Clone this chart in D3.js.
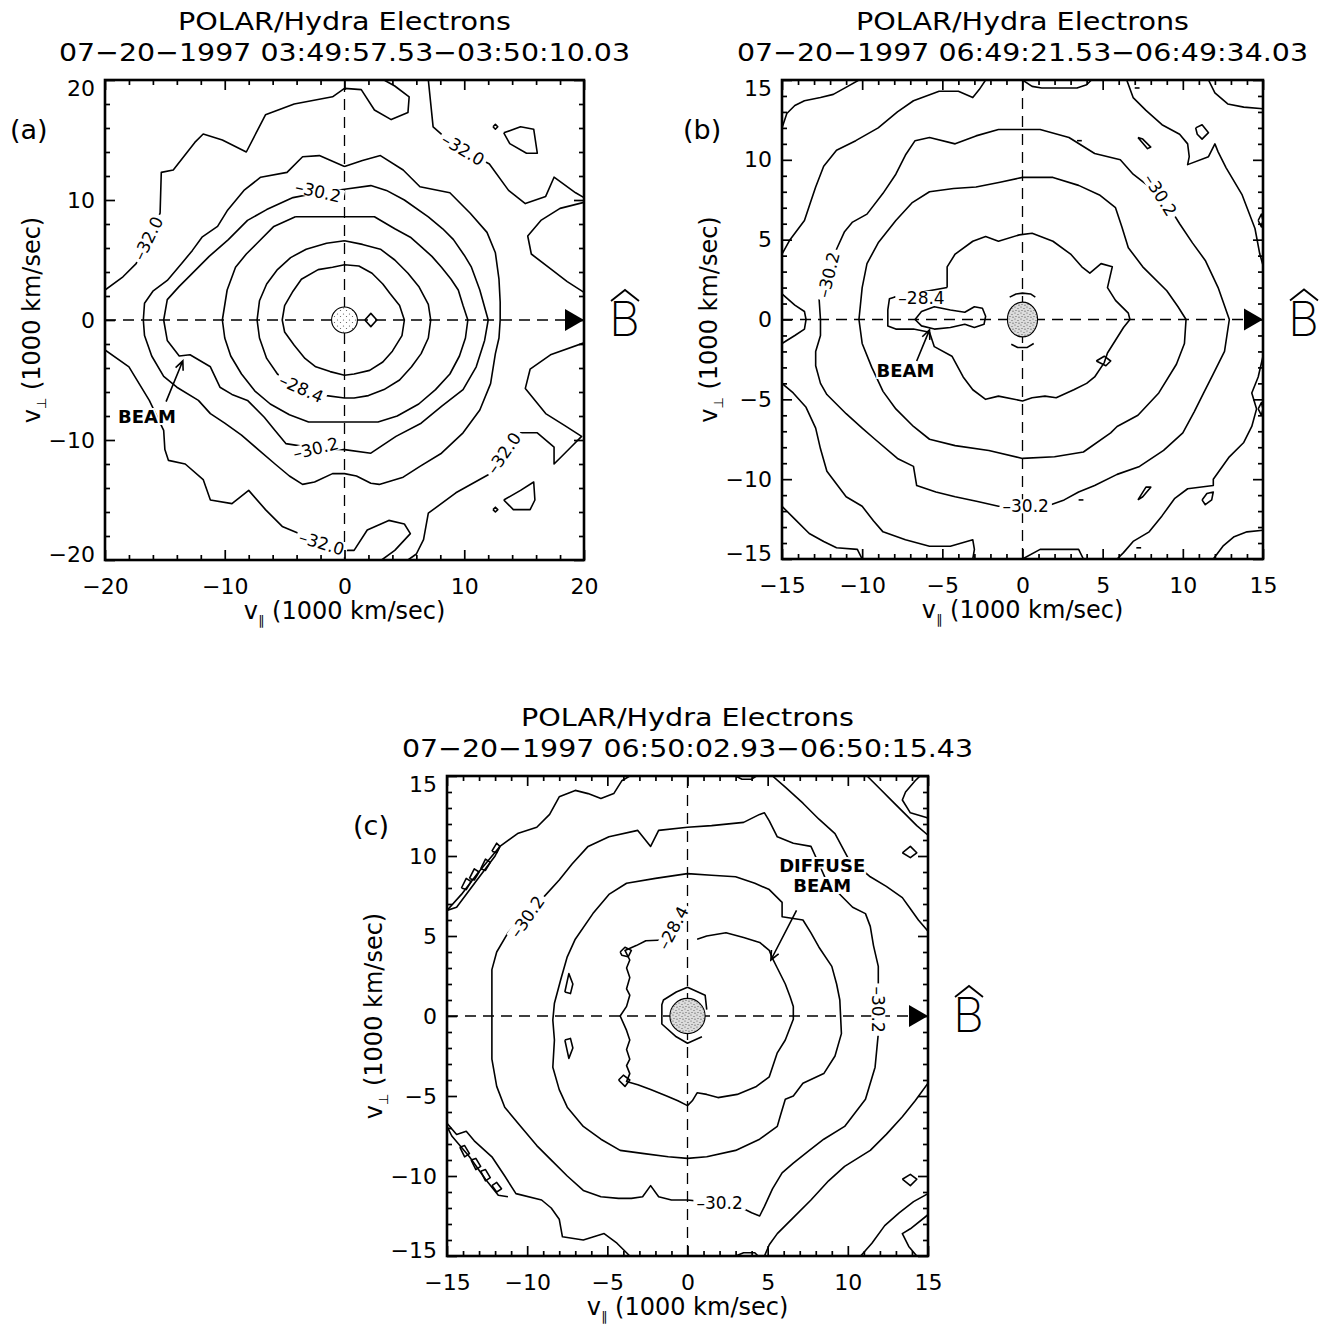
<!DOCTYPE html>
<html>
<head>
<meta charset="utf-8">
<script src="https://cdnjs.cloudflare.com/ajax/libs/d3/7.8.5/d3.min.js"></script>
<style>
  body { margin: 0; background: #fff; }
  svg { display: block; }
</style>
</head>
<body>
<div id="chart"></div>
<script>
const WIDTH = 1320;
const HEIGHT = 1325;
const FONT = '"DejaVu Sans", "Liberation Sans", sans-serif';

// ---------------- panel (a) data, units of 1000 km/sec ----------------
const titleA = ['POLAR/Hydra Electrons', '07\u221220\u22121997 03:49:57.53\u221203:50:10.03'];

const a_ring1 = [[0,4.6],[1.2,4.5],[2.3,3.9],[3.2,3.0],[3.8,2.2],[4.6,1.2],[5.0,0],[4.8,-1.3],[4.0,-2.6],[3.2,-3.5],[2.1,-4.2],[0.8,-4.5],[0,-4.6],[-1.2,-4.3],[-2.4,-3.9],[-3.3,-3.2],[-4.2,-2.1],[-5.0,-1.0],[-5.2,0],[-5.0,1.2],[-4.3,2.4],[-3.6,3.4],[-2.2,4.2],[-1.0,4.4],[0,4.6]];
const a_ring2 = [[0,6.6],[1.5,6.3],[3,5.9],[4.2,5.0],[5.3,3.9],[6.2,2.8],[7.0,1.3],[7.2,0],[7.0,-1.5],[6.4,-2.8],[5.6,-3.9],[4.6,-5.0],[3.3,-5.8],[2,-6.3],[0.8,-6.5],[0,-6.5],[-1.5,-6.3],[-3,-5.9],[-4.5,-5.3],[-5.6,-4.5],[-6.5,-3.2],[-7.1,-1.5],[-7.3,0],[-7.1,1.6],[-6.5,3.0],[-5.6,4.2],[-4.5,5.2],[-3.2,5.9],[-1.5,6.4],[0,6.6]];
const a_ring3 = [[-4.1,8.6],[2.5,8.6],[4.2,7.6],[5.5,6.9],[6.3,6.2],[7.3,5.3],[8.1,4.4],[8.9,3.4],[9.5,2.5],[9.9,1.2],[10.3,0],[10.1,-1.5],[9.6,-3.0],[8.8,-4.5],[7.6,-5.8],[6.2,-7.0],[4.4,-8.0],[2.8,-8.5],[0,-8.5],[-3.0,-8.5],[-4.6,-7.9],[-6.2,-7.0],[-7.5,-5.9],[-8.6,-4.5],[-9.5,-3.0],[-10.0,-1.5],[-10.2,0],[-9.8,2.5],[-9.1,4.4],[-8.2,5.5],[-7.3,6.4],[-5.9,7.8],[-4.1,8.6]];
const a_ring4 = [[0,10.9],[2.2,11.2],[3.5,10.8],[5,10],[7,8.6],[8.2,7.6],[9.1,6.7],[10.0,5.4],[10.6,4.4],[11.3,2.5],[12,0],[11.7,-1.7],[11,-3.9],[9.9,-5.8],[8.1,-7.2],[6.4,-8.6],[4.3,-9.7],[2.2,-11.1],[0,-10.8],[-2.4,-10.7],[-4.9,-10.3],[-5.8,-9.2],[-6.7,-8.1],[-8.1,-6.7],[-9.4,-6.2],[-10.4,-5.6],[-11.2,-3.9],[-12.9,-2.9],[-13.8,-3.0],[-14.8,-1.7],[-15.1,0],[-14.8,1.7],[-13.8,2.8],[-12.9,3.7],[-11.3,5.3],[-9.7,6.7],[-8.1,8.3],[-6.5,9.2],[-4.3,10.2],[-2.2,10.6],[0,10.9]];
const a_ring5 = [[0,12.8],[1.5,13.3],[3,13.7],[4.9,12.5],[6.3,11.1],[8.8,10.6],[10.5,8.9],[11.9,7.3],[12.6,5.6],[12.9,3.4],[13.0,1.5],[13.0,0],[12.9,-1.5],[12.6,-2.8],[12.2,-5.3],[11.3,-7.5],[9.9,-9.4],[8.1,-11.1],[6.3,-12.2],[4.9,-13.1],[2.9,-13.7],[2.2,-13.6],[1.0,-13.0],[0,-12.8],[-1,-12.8],[-2.5,-13.5],[-3.5,-13.7],[-4.6,-13.0],[-5.8,-12.0],[-7.2,-10.8],[-8.6,-9.6],[-10.0,-8.6],[-11.2,-7.8],[-12.2,-6.7],[-14.0,-5.6],[-15.1,-4.7],[-16.1,-3.0],[-16.7,-1.3],[-16.8,0],[-16.7,1.4],[-16.0,2.4],[-14.8,3.3],[-13.6,4.7],[-12.7,5.8],[-11.9,6.9],[-10.6,7.8],[-9.8,9.1],[-8.4,10.8],[-7.0,11.9],[-4.8,12.3],[-3.5,13.6],[-2.1,13.7],[0,12.8]];
const a_outer1 = [[-20,2.5],[-18.5,3.6],[-17.4,4.7],[-16.4,6.8],[-15.4,8.9],[-15.3,12.3],[-14.3,12.5],[-12.5,14.8],[-11.8,15.5],[-10.2,15.0],[-8.2,14.0],[-6.6,17.1],[-4.2,18.0],[-1.0,18.6],[0,19.3],[1.4,19.2],[2.5,17.5],[3.9,16.7],[5.3,17.3],[5.4,18.6],[4.2,19.5],[3.3,20]];
const a_outer2 = [[7.0,20],[7.4,16.1],[8.3,15.3],[9.5,14.5],[11,13.6],[12.1,13.0],[13.7,10.8],[15.1,9.7],[16.8,10.3],[17.5,11.9],[19.3,10.6],[20,10.2]];
const a_outer3 = [[20,9.8],[18.0,9.3],[16.4,8.3],[15.3,7.0],[15.6,5.5],[17.3,4.2],[18.6,3.2],[20,2.3]];
const a_outer4 = [[20,-1.9],[17.2,-2.9],[15.5,-4.1],[15.1,-5.7],[16.8,-7.8],[18.4,-8.8],[19.8,-9.7],[18.9,-10.6],[17.5,-12.0],[17.5,-10.6],[16.1,-9.4],[14.7,-9.4],[13.4,-11.2],[12.0,-12.9],[9.3,-14.4],[7.0,-16.1],[6.6,-18.3],[6.0,-19.5],[5.3,-20]];
const a_outer5 = [[-20,-2.5],[-18,-3.9],[-16.3,-6.7],[-15.1,-9.2],[-15,-10.8],[-14.7,-11.7],[-13.3,-12],[-11.8,-13.3],[-11.2,-15],[-9.4,-15.3],[-8.0,-14.2],[-6.6,-15.8],[-5.2,-17.2],[-3.8,-17.8],[-1.8,-18.5],[0,-19.2],[0.8,-19.2],[1.9,-17.5],[3.7,-16.7],[5.0,-17.0],[5.5,-17.8],[4.2,-19.2],[3.1,-20]];
const a_loop1 = [[13.3,15.6],[14.7,16.1],[15.8,15.9],[16.1,13.9],[15.2,13.9],[13.8,14.7],[13.3,15.6]];
const a_loop2 = [[13.3,-15],[14.7,-14.2],[15.8,-13.5],[15.9,-15],[15.5,-15.8],[14.1,-15.8],[13.3,-15]];
const a_dia1 = [[1.7,0],[2.2,0.55],[2.7,0],[2.2,-0.55],[1.7,0]];
const a_dia2 = [[12.4,16.1],[12.6,16.3],[12.8,16.1],[12.6,15.9],[12.4,16.1]];
const a_dia3 = [[12.4,-15.8],[12.6,-15.6],[12.8,-15.8],[12.6,-16.0],[12.4,-15.8]];
const contoursA = [a_ring1, a_ring2, a_ring3, a_ring4, a_ring5, a_outer1, a_outer2, a_outer3, a_outer4, a_outer5, a_loop1, a_loop2, a_dia1, a_dia2, a_dia3];
// [text, v_par, v_perp, angle]
const labelsA = [['\u201332.0', -16.4, 6.8, -64], ['\u201332.0', 9.9, 14.2, 31], ['\u201330.2', -2.2, 10.7, 13],
                 ['\u201328.4', -3.6, -5.7, 24], ['\u201330.2', -2.4, -10.7, -14], ['\u201332.0', 13.3, -11.1, -55],
                 ['\u201332.0', -1.9, -18.6, 17]];
const coreA = [1.08, 1.08];
const notesA = [{ text: ['BEAM'], at: [-16.5, -8.0], from: [-14.9, -6.8], to: [-13.5, -3.4] }];

// ---------------- panel (b) data ----------------
const titleB = ['POLAR/Hydra Electrons', '07\u221220\u22121997 06:49:21.53\u221206:49:34.03'];

const b_beam = [[-6.7,0],[-6.3,0.5],[-5.5,0.8],[-4.5,0.6],[-3.6,0.45],[-3.0,0.8],[-2.5,0.7],[-2.3,0.2],[-2.4,-0.3],[-3.0,-0.5],[-3.6,-0.3],[-4.5,-0.5],[-5.5,-0.6],[-6.3,-0.4],[-6.7,0]];
const b_ring1 = [[-4.7,2.0],[-4.7,3.3],[-4.2,4.1],[-3.1,4.9],[-2.3,5.2],[-1.5,4.9],[-0.2,5.3],[0.6,5.4],[1.9,4.9],[3.0,4.1],[3.7,3.3],[4.2,2.9],[4.9,3.5],[5.6,3.3],[5.3,2.0],[5.8,1.2],[6.6,0.4],[6.7,0],[6.3,-0.5],[5.8,-1.3],[5.3,-2.1],[5.1,-2.7],[4.5,-3.6],[4.0,-4.0],[3.2,-4.4],[2.1,-4.9],[1.4,-4.8],[0.6,-4.9],[0,-5.1],[-1.5,-4.8],[-2.3,-5.0],[-3.1,-4.4],[-3.7,-3.6],[-4.4,-2.3],[-5.5,-1.7],[-5.8,-0.8],[-6.8,-0.6],[-7.9,-0.6],[-8.4,-0.4],[-8.4,0.6],[-8.3,1.3],[-8.0,1.4],[-4.7,2.0]];
const b_ring2 = [[0,8.9],[1.9,8.9],[3.5,8.4],[4.8,7.8],[5.8,7.0],[6.2,5.8],[6.6,4.5],[7.5,3.3],[9.0,1.8],[9.7,0.8],[10.2,0],[10.1,-1.5],[9.6,-2.8],[8.5,-4.6],[7.2,-6.0],[5.9,-6.7],[5.5,-7.1],[3.8,-8.3],[2.0,-8.6],[0,-8.7],[-2.1,-8.2],[-4.2,-7.9],[-5.8,-7.5],[-6.8,-6.7],[-7.9,-5.6],[-8.7,-4.5],[-9.4,-3.0],[-10.0,-1.5],[-10.2,0],[-10.0,2.0],[-9.7,3.5],[-9.0,4.8],[-7.9,6.2],[-6.9,7.3],[-5.8,8.0],[-4.3,8.2],[-2.9,8.3],[-1.4,8.6],[0,8.9]];
const b_ring3 = [[0,11.9],[1.1,11.9],[2.9,11.4],[4.5,10.4],[6.1,10.0],[6.9,9.1],[7.8,8.4],[8.6,7.6],[9.3,6.8],[9.8,6.0],[10.6,4.8],[11.4,3.7],[12.2,2.0],[12.9,0],[12.6,-2.0],[11.9,-3.4],[11.3,-4.6],[10.7,-5.8],[10.0,-7.1],[8.8,-8.2],[7.3,-9.2],[5.9,-9.7],[4.5,-10.4],[3.5,-10.8],[2.6,-11.3],[1.5,-11.7],[-1.5,-11.7],[-2.8,-11.4],[-4.2,-11.1],[-5.4,-10.8],[-6.6,-10.4],[-6.8,-9.2],[-7.8,-8.7],[-9.2,-7.5],[-10.0,-6.8],[-11.0,-5.9],[-12.2,-4.7],[-12.6,-4.0],[-12.9,-2.9],[-12.9,-2.0],[-12.6,-1.0],[-12.6,0],[-12.7,1.5],[-12.4,2.4],[-11.9,3.5],[-11.6,4.4],[-11.1,5.5],[-10.6,6.1],[-9.7,6.6],[-8.7,7.9],[-7.9,9.1],[-7.3,10.3],[-6.7,11.2],[-5.8,11.4],[-4.2,11.0],[-2.9,11.5],[-1.5,11.9],[0,11.9]];
const b_outer1 = [[-15,4.1],[-14.5,5.0],[-13.6,6.2],[-13.2,7.4],[-12.9,8.3],[-12.4,9.6],[-11.6,10.6],[-10.4,11.2],[-9.0,12.0],[-7.8,13.0],[-6.8,13.7],[-5.2,14.3],[-4.0,14.3],[-3.1,13.9],[-2.7,14.4],[-2.3,15]];
const b_outer2 = [[0,15],[0.6,14.6],[1.2,14.5],[3.4,14.5],[4.0,14.7],[4.3,15]];
const b_outer3 = [[6.5,15],[6.9,13.9],[7.7,13.1],[8.7,12.2],[9.8,11.6],[10.3,11.0],[10.4,10.2],[10.3,9.7],[11.6,10.2],[12.0,11.0],[12.2,10.5],[12.7,9.5],[13.7,7.8],[14.5,5.7],[14.8,4.1],[15,3.4]];
const b_outer4 = [[15,-2.3],[14.7,-3.6],[14.3,-4.6],[14.6,-5.6],[14.3,-6.7],[13.8,-7.7],[12.9,-8.6],[11.9,-10.0],[11.9,-10.4],[10.3,-10.6],[9.5,-11.2],[8.7,-12.3],[7.9,-13.3],[6.9,-13.9],[6.3,-14.6],[5.9,-15]];
const b_outer5 = [[0,-15],[1.1,-14.4],[3.5,-14.4],[3.8,-15]];
const b_outer6 = [[-15,-4.0],[-14.3,-4.6],[-13.5,-5.5],[-12.9,-6.8],[-12.6,-8.1],[-12.2,-9.5],[-11.0,-11.1],[-10.0,-11.7],[-9.3,-12.6],[-8.7,-13.3],[-7.3,-13.8],[-5.8,-14.2],[-4.5,-14.2],[-3.1,-13.8],[-3.0,-14.4],[-3.1,-15]];
const b_outer7 = [[-15,1.6],[-14.2,0.9],[-13.6,0.5],[-13.5,0],[-13.6,-0.6],[-14.2,-1.0],[-15,-1.5]];
const b_corner1 = [[-15,12.0],[-14.7,12.9],[-14.2,13.4],[-13.6,13.7],[-12.6,13.9],[-11.8,14.1],[-10.9,14.6],[-10.2,15]];
const b_corner2 = [[-15,-11.7],[-14.2,-12.5],[-13.3,-13.4],[-12.4,-13.9],[-11.6,-14.3],[-10.3,-14.4],[-10.0,-15]];
const b_corner3 = [[11.6,15],[12.0,14.2],[12.8,13.5],[13.8,13.3],[15,13.2]];
const b_corner4 = [[11.9,-15],[12.5,-14.2],[13.2,-13.6],[14.0,-13.3],[15,-13.2]];
const b_arcTop = [[-0.8,1.4],[-0.4,1.6],[0,1.65],[0.5,1.6],[0.8,1.4]];
const b_arcBot = [[-0.7,-1.55],[-0.3,-1.75],[0.3,-1.75],[0.7,-1.5]];
const b_loop1 = [[4.6,-2.6],[5.1,-2.3],[5.5,-2.6],[5.2,-2.9],[4.6,-2.6]];
const b_sliver1 = [[7.2,11.4],[7.5,11.3],[8.0,10.8],[7.8,10.7],[7.2,11.4]];
const b_loop2 = [[10.8,12.0],[11.2,12.2],[11.6,11.7],[11.2,11.3],[10.9,11.6],[10.8,12.0]];
const b_dia1 = [[14.7,6.2],[14.9,6.6],[15,6.2],[14.9,5.8],[14.7,6.2]];
const b_dia2 = [[14.7,-5.6],[14.9,-5.2],[15,-5.6],[14.9,-6.0],[14.7,-5.6]];
const b_sliver2 = [[7.2,-11.3],[7.5,-11.1],[8.0,-10.5],[7.7,-10.5],[7.2,-11.3]];
const b_dia3 = [[11.2,-11.3],[11.5,-10.9],[11.9,-10.8],[11.8,-11.3],[11.4,-11.6],[11.2,-11.3]];
const b_dash1 = [[7.0,14.5],[7.3,14.5]];
const b_dash2 = [[3.4,11.2],[3.7,11.2]];
const b_dash3 = [[3.5,-11.3],[3.8,-11.3]];
const b_dash4 = [[7.1,-14.3],[7.4,-14.3]];
const contoursB = [b_beam, b_ring1, b_ring2, b_ring3, b_outer1, b_outer2, b_outer3, b_outer4, b_outer5, b_outer6, b_outer7,
                   b_corner1, b_corner2, b_corner3, b_corner4, b_arcTop, b_arcBot, b_loop1, b_sliver1, b_loop2,
                   b_dia1, b_dia2, b_sliver2, b_dia3, b_dash1, b_dash2, b_dash3, b_dash4];
const labelsB = [['\u201330.2', -12.1, 2.8, -76], ['\u201330.2', 8.6, 7.8, 58], ['\u201330.2', 0.2, -11.7, 0],
                 ['\u201328.4', -6.3, 1.35, 0]];
const coreB = [0.94, 1.09];
const notesB = [{ text: ['BEAM'], at: [-7.3, -3.2], from: [-6.6, -2.6], to: [-5.8, -0.65] }];

// ---------------- panel (c) data ----------------
const titleC = ['POLAR/Hydra Electrons', '07\u221220\u22121997 06:50:02.93\u221206:50:15.43'];

const c_hex = [[0.9,-1.3],[0,-1.7],[-0.7,-1.3],[-1.6,-0.5],[-1.6,0.7],[-1.5,1.0],[-0.7,1.5],[0,1.8],[1.1,1.3],[1.2,0.4]];
const c_ring1 = [[0.6,4.8],[1.2,5.0],[2.4,5.2],[3.5,4.9],[4.5,4.6],[5.1,4.1],[5.3,3.6],[5.6,3.0],[6.1,2.0],[6.4,1.2],[6.6,0.6],[6.6,-0.2],[6.1,-1.5],[5.6,-2.3],[5.1,-3.8],[4.3,-4.4],[3.1,-4.9],[1.9,-5.1],[1.2,-4.9],[0.6,-4.8],[0.3,-5.3],[0,-5.6],[-0.6,-5.3],[-1.3,-5.0],[-2.3,-4.6],[-3.1,-4.3],[-3.8,-4.1],[-3.6,-3.6],[-3.8,-3.1],[-3.6,-2.7],[-3.8,-2.1],[-3.6,-1.5],[-3.8,-0.9],[-4.2,0],[-3.8,0.6],[-3.6,1.3],[-3.8,1.7],[-3.6,2.4],[-3.8,3.0],[-3.6,3.5],[-3.9,4.1],[-3.2,4.4],[-2.6,4.7],[-1.5,4.75]];
const c_loop1 = [[-4.2,4.0],[-3.9,4.3],[-3.5,4.1],[-3.7,3.7],[-4.1,3.8],[-4.2,4.0]];
const c_loop2 = [[-4.3,-4.0],[-4.0,-3.7],[-3.6,-4.0],[-3.9,-4.4],[-4.3,-4.0]];
const c_ring2 = [[0,8.9],[1.5,8.8],[3.0,8.7],[4.2,8.3],[5.1,7.9],[5.9,7.1],[5.9,6.2],[7.2,6.0],[7.7,5.2],[8.2,4.3],[9.0,3.1],[9.3,2.0],[9.5,1.0],[9.6,-1.1],[9.2,-2.5],[8.5,-3.6],[7.2,-4.2],[6.6,-5.0],[6.1,-5.2],[5.8,-6.2],[5.6,-6.9],[4.5,-7.7],[3.0,-8.4],[1.2,-8.8],[0,-8.9],[-1.2,-8.8],[-2.7,-8.6],[-4.2,-8.4],[-5.4,-7.7],[-6.5,-6.9],[-7.5,-5.7],[-8.0,-4.6],[-8.4,-3.2],[-8.3,-1.5],[-8.4,-0.25],[-8.3,0.8],[-7.9,2.3],[-7.5,3.7],[-7.0,4.8],[-5.9,6.4],[-4.9,7.6],[-3.8,8.3],[-2.0,8.6],[0,8.9]];
const c_tri1 = [[-7.65,1.5],[-7.4,2.65],[-7.15,2.0],[-7.3,1.4],[-7.65,1.5]];
const c_tri2 = [[-7.65,-1.5],[-7.4,-2.65],[-7.15,-2.0],[-7.3,-1.4],[-7.65,-1.5]];
const c_ring3 = [[0,11.8],[1.5,11.9],[3.5,12.1],[4.5,12.6],[4.8,12.7],[5.1,12.2],[5.6,11.2],[6.6,10.8],[7.7,10.6],[8.2,9.5],[8.6,8.6],[9.4,7.7],[10.3,6.8],[11.1,6.4],[11.4,5.6],[11.6,4.4],[11.9,3.1],[11.9,2.0],[11.9,-1.1],[11.7,-3.2],[11.1,-5.2],[9.8,-6.9],[8.5,-7.7],[7.6,-8.4],[6.6,-9.2],[5.9,-9.8],[5.3,-10.8],[4.8,-11.9],[4.5,-12.5],[4.0,-12.3],[3.0,-11.8],[1.0,-11.6],[0,-11.5],[-1.0,-11.5],[-1.8,-11.3],[-2.3,-10.6],[-2.8,-11.3],[-3.5,-11.4],[-4.3,-11.4],[-5.4,-11.3],[-6.5,-10.9],[-7.5,-10.0],[-8.4,-9.1],[-9.4,-8.1],[-10.4,-6.9],[-11.4,-5.7],[-11.9,-4.4],[-12.2,-2.7],[-12.2,-1.0],[-12.2,1.0],[-12.2,2.9],[-11.9,4.0],[-11.2,5.2],[-10.0,6.5],[-9.0,7.4],[-8.0,8.5],[-7.2,9.5],[-6.2,10.6],[-4.9,11.2],[-3.1,11.6],[-2.3,10.6],[-1.8,11.6],[0,11.8]];
const c_outer1 = [[-15,6.6],[-14.1,7.6],[-13.1,8.9],[-11.7,10.6],[-10.6,11.4],[-9.4,11.8],[-8.6,12.6],[-8.0,13.7],[-7.0,14.1],[-6.2,13.9],[-5.4,13.6],[-4.6,13.9],[-4.1,14.7],[-3.6,15]];
const c_strip1 = [[-15,6.6],[-14.4,6.8],[-13.2,8.4],[-12.0,10.0],[-11.7,10.6]];
const c_outer2 = [[5.3,15],[6.1,14.3],[7.2,13.3],[8.2,12.3],[9.2,11.4],[10.0,9.9],[11.4,8.7],[12.4,8.1],[13.4,7.4],[13.9,6.7],[14.4,6.0],[15,5.3]];
const c_outer3 = [[15,-4.2],[14.2,-5.3],[13.4,-6.3],[12.4,-7.4],[11.4,-8.4],[9.8,-9.4],[8.8,-10.3],[7.7,-11.5],[6.6,-12.6],[5.6,-13.6],[5.1,-14.3],[4.8,-15]];
const c_outer4 = [[-15,-6.7],[-14.4,-7.4],[-13.8,-7.2],[-13.3,-7.8],[-12.2,-8.8],[-11.4,-10.0],[-10.7,-11.1],[-9.1,-11.5],[-8.5,-12.0],[-8.0,-12.7],[-7.8,-13.8],[-6.5,-14.0],[-5.2,-13.6],[-4.4,-14.2],[-3.8,-14.8],[-3.6,-15]];
const c_strip2 = [[-15,-6.9],[-14.7,-7.5],[-13.6,-8.8],[-12.6,-10.2],[-11.8,-11.2],[-11.2,-11.3]];
const c_outer5 = [[3.0,15],[3.4,14.8],[4.0,14.8],[4.3,15]];
const c_outer6 = [[3.0,-15],[3.5,-14.8],[4.2,-14.8],[4.4,-15]];
const c_corner1 = [[11.2,15],[12.0,14.2],[12.8,13.4],[13.6,12.6],[14.3,11.9],[15,11.3]];
const c_corner2 = [[14.5,15],[14.2,14.7],[13.6,14.0],[13.4,13.5],[13.9,12.7],[14.9,12.4],[15,12.4]];
const c_corner3 = [[10.8,-15],[11.5,-14.2],[12.3,-13.1],[13.2,-12.3],[14.1,-11.6],[15,-11.1]];
const c_corner4 = [[15,-12.4],[14.9,-12.5],[13.9,-13.3],[13.4,-13.6],[13.8,-14.4],[14.3,-15]];
const c_dia1 = [[13.4,10.2],[13.9,10.6],[14.3,10.2],[13.9,9.9],[13.4,10.2]];
const c_dia2 = [[13.4,-10.2],[13.9,-9.9],[14.3,-10.2],[13.9,-10.6],[13.4,-10.2]];
const c_dia3 = [[-14.1,8.0],[-13.8,8.6],[-13.5,8.4],[-13.8,7.9],[-14.1,8.0]];
const c_dia4 = [[-13.6,8.6],[-13.3,9.2],[-13.0,9.0],[-13.3,8.5],[-13.6,8.6]];
const c_dia5 = [[-12.9,9.2],[-12.6,9.8],[-12.3,9.6],[-12.6,9.1],[-12.9,9.2]];
const c_dia6 = [[-12.2,10.3],[-11.9,10.8],[-11.7,10.6],[-11.9,10.2],[-12.2,10.3]];
const c_dia7 = [[-14.2,-8.2],[-13.9,-8.8],[-13.6,-8.6],[-13.9,-8.1],[-14.2,-8.2]];
const c_dia8 = [[-13.5,-9.0],[-13.2,-9.6],[-12.9,-9.4],[-13.2,-8.9],[-13.5,-9.0]];
const c_dia9 = [[-12.9,-9.7],[-12.6,-10.3],[-12.3,-10.1],[-12.6,-9.6],[-12.9,-9.7]];
const c_dia10 = [[-12.2,-10.6],[-11.9,-11.0],[-11.6,-10.8],[-11.9,-10.4],[-12.2,-10.6]];
const contoursC = [c_hex, c_ring1, c_loop1, c_loop2, c_ring2, c_tri1, c_tri2, c_ring3, c_outer1, c_strip1, c_outer2,
                   c_outer3, c_outer4, c_strip2, c_outer5, c_outer6, c_corner1, c_corner2, c_corner3, c_corner4,
                   c_dia1, c_dia2, c_dia3, c_dia4, c_dia5, c_dia6, c_dia7, c_dia8, c_dia9, c_dia10];
const labelsC = [['\u201330.2', -10.0, 6.2, -55], ['\u201328.4', -0.9, 5.5, -62], ['\u201330.2', 11.9, 0.4, 90],
                 ['\u201330.2', 2.0, -11.7, 0]];
const coreC = [1.1, 1.1];
const notesC = [{ text: ['DIFFUSE', 'BEAM'], at: [8.4, 8.8], from: [6.8, 6.6], to: [5.2, 3.5] }];

// ---------------- layout ----------------
const panels = [
  { left: 105, top: 80, right: 584, bottom: 560, range: 20, major: 10, minor: 2, letter: '(a)', letterX: 10,
    title: titleA, contours: contoursA, labels: labelsA, core: coreA, notes: notesA, stipple: 'stipLight' },
  { left: 782, top: 80, right: 1263, bottom: 559, range: 15, major: 5, minor: 1, letter: '(b)', letterX: 683,
    title: titleB, contours: contoursB, labels: labelsB, core: coreB, notes: notesB, stipple: 'stip' },
  { left: 447, top: 776, right: 928, bottom: 1256, range: 15, major: 5, minor: 1, letter: '(c)', letterX: 353,
    title: titleC, contours: contoursC, labels: labelsC, core: coreC, notes: notesC, stipple: 'stip' }
];

const svg = d3.select('#chart').append('svg')
  .attr('width', WIDTH).attr('height', HEIGHT)
  .style('font-family', FONT);

const defs = svg.append('defs');
const makeStipple = (id, fill, dots) => {
  const pat = defs.append('pattern').attr('id', id)
    .attr('width', 6).attr('height', 6).attr('patternUnits', 'userSpaceOnUse');
  pat.append('rect').attr('width', 6).attr('height', 6).attr('fill', fill);
  dots.forEach(d => pat.append('circle').attr('cx', d[0]).attr('cy', d[1]).attr('r', 0.6).attr('fill', '#555'));
};
makeStipple('stip', '#dcdcdc', [[1, 1], [4, 2.5], [2, 4.5], [5, 5.2]]);
makeStipple('stipLight', '#fff', [[1.5, 2], [4.5, 4.5]]);

const fmt = d => d < 0 ? '\u2212' + Math.abs(d) : String(d);

const drawPanel = (p, idx) => {
  const x = d3.scaleLinear().domain([-p.range, p.range]).range([p.left, p.right]);
  const y = d3.scaleLinear().domain([-p.range, p.range]).range([p.bottom, p.top]);
  const g = svg.append('g');
  const cx = (p.left + p.right) / 2;
  const cy = (p.top + p.bottom) / 2;

  // titles
  g.append('text').attr('x', cx).attr('y', p.top - 50).attr('text-anchor', 'middle')
    .attr('font-size', 25).attr('textLength', 333).attr('lengthAdjust', 'spacingAndGlyphs').text(p.title[0]);
  g.append('text').attr('x', cx).attr('y', p.top - 19).attr('text-anchor', 'middle')
    .attr('font-size', 25).attr('textLength', 571).attr('lengthAdjust', 'spacingAndGlyphs').text(p.title[1]);
  g.append('text').attr('x', p.letterX).attr('y', p.top + 59).attr('font-size', 27).text(p.letter);

  // clip
  const clipId = 'clip' + idx;
  defs.append('clipPath').attr('id', clipId).append('rect')
    .attr('x', p.left).attr('y', p.top).attr('width', p.right - p.left).attr('height', p.bottom - p.top);
  const plot = g.append('g').attr('clip-path', `url(#${clipId})`);

  // dashed reference lines
  plot.append('line').attr('x1', x(-p.range)).attr('x2', x(p.range)).attr('y1', y(0)).attr('y2', y(0))
    .attr('stroke', '#000').attr('stroke-width', 1.3).attr('stroke-dasharray', '11,7');
  plot.append('line').attr('x1', x(0)).attr('x2', x(0)).attr('y1', y(-p.range)).attr('y2', y(p.range))
    .attr('stroke', '#000').attr('stroke-width', 1.3).attr('stroke-dasharray', '11,7');

  // contours
  const line = d3.line().x(d => x(d[0])).y(d => y(d[1]));
  plot.selectAll('path.contour').data(p.contours).enter().append('path')
    .attr('class', 'contour').attr('d', line)
    .attr('fill', 'none').attr('stroke', '#000').attr('stroke-width', 1.6).attr('stroke-linejoin', 'round');

  // central disc
  plot.append('ellipse').attr('cx', x(0)).attr('cy', y(0))
    .attr('rx', x(p.core[0]) - x(0)).attr('ry', y(0) - y(p.core[1]))
    .attr('fill', `url(#${p.stipple})`).attr('stroke', '#000').attr('stroke-width', 1.1);

  // contour labels, each on a white plate that breaks the line
  p.labels.forEach(d => {
    const lg = plot.append('g').attr('transform', `translate(${x(d[1])},${y(d[2])}) rotate(${d[3]})`);
    const plate = lg.append('rect').attr('fill', '#fff');
    const t = lg.append('text').attr('text-anchor', 'middle').attr('y', 6)
      .attr('font-size', 17).attr('fill', '#000').text(d[0]);
    const bb = t.node().getBBox();
    plate.attr('x', bb.x - 3).attr('y', -7).attr('width', bb.width + 6).attr('height', 14);
  });

  // annotations
  p.notes.forEach(n => {
    const lh = 20;
    n.text.forEach((t, i) => {
      plot.append('text').attr('x', x(n.at[0])).attr('y', y(n.at[1]) + (i - (n.text.length - 1) / 2) * lh + 6.5)
        .attr('text-anchor', 'middle')
        .attr('font-size', 18).attr('font-weight', 'bold')
        .attr('stroke', '#fff').attr('stroke-width', 4).attr('paint-order', 'stroke').text(t);
    });
    const x1 = x(n.from[0]), y1 = y(n.from[1]), x2 = x(n.to[0]), y2 = y(n.to[1]);
    const ang = Math.atan2(y2 - y1, x2 - x1);
    const hl = 10, ha = 0.42;
    plot.append('path')
      .attr('d', `M${x1},${y1}L${x2},${y2}M${x2 - hl * Math.cos(ang - ha)},${y2 - hl * Math.sin(ang - ha)}L${x2},${y2}L${x2 - hl * Math.cos(ang + ha)},${y2 - hl * Math.sin(ang + ha)}`)
      .attr('fill', 'none').attr('stroke', '#000').attr('stroke-width', 1.6);
  });

  // axes
  const major = d3.range(-p.range, p.range + 1e-6, p.major);
  const minor = d3.range(-p.range, p.range + 1e-6, p.minor).filter(v => !major.some(m => Math.abs(m - v) < 1e-6));
  const styleAxis = sel => {
    sel.select('.domain').remove();
    sel.selectAll('line').attr('stroke-width', 1.7);
    sel.attr('font-family', FONT).attr('font-size', 22);
  };
  const axes = g.append('g');
  axes.append('g').attr('transform', `translate(0,${p.bottom})`)
    .call(d3.axisBottom(x).tickValues(major).tickSize(-10).tickPadding(18).tickFormat(fmt)).call(styleAxis);
  axes.append('g').attr('transform', `translate(0,${p.bottom})`)
    .call(d3.axisBottom(x).tickValues(minor).tickSize(-5).tickFormat('')).call(styleAxis);
  axes.append('g').attr('transform', `translate(0,${p.top})`)
    .call(d3.axisTop(x).tickValues(major).tickSize(-10).tickFormat('')).call(styleAxis);
  axes.append('g').attr('transform', `translate(0,${p.top})`)
    .call(d3.axisTop(x).tickValues(minor).tickSize(-5).tickFormat('')).call(styleAxis);
  const yAxis = axes.append('g').attr('transform', `translate(${p.left},0)`)
    .call(d3.axisLeft(y).tickValues(major).tickSize(-10).tickPadding(10).tickFormat(fmt)).call(styleAxis);
  yAxis.selectAll('text').attr('transform', d => d === p.range ? 'translate(0,8)' : d === -p.range ? 'translate(0,-6)' : null);
  axes.append('g').attr('transform', `translate(${p.left},0)`)
    .call(d3.axisLeft(y).tickValues(minor).tickSize(-5).tickFormat('')).call(styleAxis);
  axes.append('g').attr('transform', `translate(${p.right},0)`)
    .call(d3.axisRight(y).tickValues(major).tickSize(-10).tickFormat('')).call(styleAxis);
  axes.append('g').attr('transform', `translate(${p.right},0)`)
    .call(d3.axisRight(y).tickValues(minor).tickSize(-5).tickFormat('')).call(styleAxis);
  axes.selectAll('text').attr('fill', '#000');

  g.append('rect').attr('x', p.left).attr('y', p.top)
    .attr('width', p.right - p.left).attr('height', p.bottom - p.top)
    .attr('fill', 'none').attr('stroke', '#000').attr('stroke-width', 2.6);

  // field direction arrow and B-hat
  const tx = x(p.range), ty = y(0);
  g.append('path').attr('d', `M${tx},${ty}L${tx - 19},${ty - 11}L${tx - 19},${ty + 11}Z`).attr('fill', '#000');
  const bx = p.right + 25;
  g.append('text').attr('x', bx).attr('y', ty + 16).attr('font-size', 48)
    .attr('font-family', 'Inter, Roboto, "DejaVu Sans", sans-serif').attr('font-weight', 200).text('B');
  g.append('path').attr('d', `M${bx + 2},${ty - 19}L${bx + 16},${ty - 30}L${bx + 30},${ty - 19}`)
    .attr('fill', 'none').attr('stroke', '#000').attr('stroke-width', 1.8);

  // axis titles
  const xt = g.append('text').attr('x', cx).attr('y', p.bottom + 59).attr('text-anchor', 'middle')
    .attr('font-size', 24).attr('fill', '#000');
  xt.append('tspan').text('v');
  xt.append('tspan').attr('font-size', 13).attr('dy', 6).text('\u2225');
  xt.append('tspan').attr('dy', -6).text(' (1000 km/sec)');
  const yt = g.append('text').attr('transform', `translate(${p.left - 65},${cy}) rotate(-90)`)
    .attr('text-anchor', 'middle').attr('font-size', 24).attr('fill', '#000');
  yt.append('tspan').text('v');
  yt.append('tspan').attr('font-size', 13).attr('dy', 6).text('\u22a5');
  yt.append('tspan').attr('dy', -6).text(' (1000 km/sec)');
};

panels.forEach(drawPanel);
</script>
</body>
</html>
